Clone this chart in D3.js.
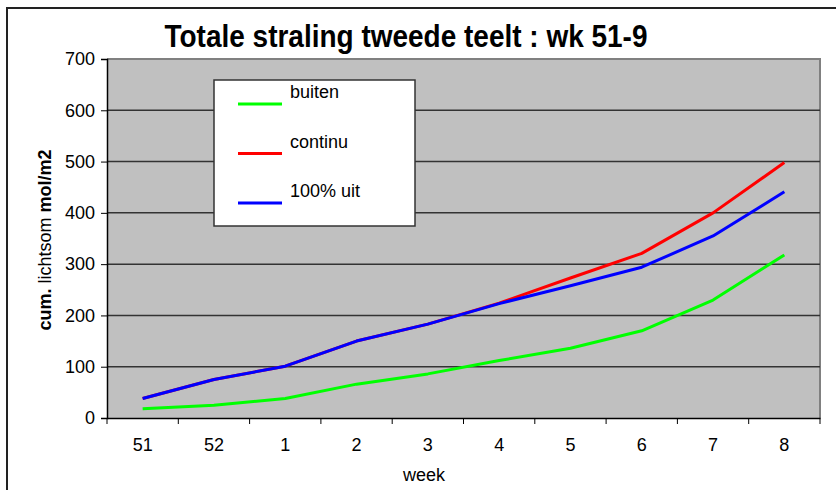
<!DOCTYPE html>
<html>
<head>
<meta charset="utf-8">
<script src="https://cdn.jsdelivr.net/npm/d3@7/dist/d3.min.js"></script>
<style>
  html, body { margin: 0; padding: 0; background: #fff; }
  svg { display: block; }
  text { font-family: "Liberation Sans Narrow", "Liberation Sans", Arial, sans-serif; fill: #000; }
</style>
</head>
<body>
<script>
var weeks = ['51', '52', '1', '2', '3', '4', '5', '6', '7', '8']
var buiten = [18, 25, 38, 66, 86, 112, 136, 170, 230, 318]
var continu = [38, 75, 101, 150, 183, 224, 273, 321, 400, 498]
var uit = [38, 75, 101, 150, 183, 223, 258, 294, 355, 441]
var yTicks = [0, 100, 200, 300, 400, 500, 600, 700]

var series = [
  {name: 'buiten', values: buiten, color: '#00ff00'},
  {name: 'continu', values: continu, color: '#ff0000'},
  {name: '100% uit', values: uit, color: '#0000ff'}
]

var width = 836, height = 490
var plot = {left: 107, right: 820, top: 59, bottom: 418}

var svg = d3.select('body').append('svg').
  attr('width', width).
  attr('height', height)

// outer chart frame
svg.append('rect').
  attr('x', 7).attr('y', 8).
  attr('width', 900).attr('height', 600).
  attr('fill', '#fff').
  attr('stroke', '#222').
  attr('stroke-width', 2)

var x = d3.scaleBand().domain(weeks).range([plot.left, plot.right])
var y = d3.scaleLinear().domain([0, 700]).range([plot.bottom, plot.top])

// plot area
svg.append('rect').
  attr('x', plot.left).attr('y', plot.top).
  attr('width', plot.right - plot.left).
  attr('height', plot.bottom - plot.top).
  attr('fill', '#c0c0c0')

svg.append('path').
  attr('d', 'M' + plot.left + ',' + plot.top + 'H' + plot.right + 'V' + plot.bottom).
  attr('fill', 'none').
  attr('stroke', '#808080').
  attr('stroke-width', 2)

// grid lines
svg.append('g').selectAll('line').
  data(yTicks.slice(1, -1)).
  enter().append('line').
  attr('x1', plot.left).attr('x2', plot.right).
  attr('y1', function (d) { return y(d) }).
  attr('y2', function (d) { return y(d) }).
  attr('stroke', '#333').
  attr('stroke-width', 1.5)

// y axis
var yAxis = svg.append('g').
  attr('transform', 'translate(' + plot.left + ',0)').
  call(d3.axisLeft(y).tickValues(yTicks).tickSize(6).tickPadding(6))
yAxis.selectAll('text').attr('font-size', 18).attr('font-family', null)

// x axis, ticks at the band edges
var xAxis = svg.append('g').
  attr('transform', 'translate(0,' + plot.bottom + ')').
  call(d3.axisBottom(x).tickSize(0).tickPadding(20))
xAxis.selectAll('text').attr('font-size', 18).attr('font-family', null)
xAxis.selectAll('.tick line').remove()
xAxis.selectAll('.edge').
  data(weeks.concat(['end'])).
  enter().append('line').
  attr('class', 'edge').
  attr('x1', function (d, i) { return plot.left + i * x.step() }).
  attr('x2', function (d, i) { return plot.left + i * x.step() }).
  attr('y1', 0).attr('y2', 6).
  attr('stroke', '#000')

svg.selectAll('.domain').attr('stroke', '#000').attr('stroke-width', 1.5)
svg.selectAll('.tick line').attr('stroke', '#000')

// series lines
var line = d3.line().
  x(function (d, i) { return x(weeks[i]) + x.bandwidth() / 2 }).
  y(function (d) { return y(d) })

svg.append('g').selectAll('path').
  data(series).
  enter().append('path').
  attr('d', function (s) { return line(s.values) }).
  attr('fill', 'none').
  attr('stroke', function (s) { return s.color }).
  attr('stroke-width', 3).
  attr('stroke-linejoin', 'round')

// legend
var legend = svg.append('g').attr('transform', 'translate(214,80)')
legend.append('rect').
  attr('width', 201).attr('height', 146).
  attr('fill', '#fff').
  attr('stroke', '#333').
  attr('stroke-width', 1.5)

var items = legend.selectAll('.item').
  data(series).
  enter().append('g').
  attr('class', 'item').
  attr('transform', function (d, i) { return 'translate(0,' + (24 + i * 49.5) + ')' })

items.append('line').
  attr('x1', 24).attr('x2', 68).
  attr('y1', 0).attr('y2', 0).
  attr('stroke', function (d) { return d.color }).
  attr('stroke-width', 3)

items.append('text').
  attr('x', 76).attr('y', -6).
  attr('font-size', 18).
  text(function (d) { return d.name })

// title
svg.append('text').
  attr('x', 406).attr('y', 47).
  attr('text-anchor', 'middle').
  attr('font-size', 32).
  attr('font-weight', 'bold').
  attr('textLength', 483).
  attr('lengthAdjust', 'spacingAndGlyphs').
  text('Totale straling tweede teelt : wk 51-9')

// axis titles
svg.append('text').
  attr('x', 424).attr('y', 481).
  attr('text-anchor', 'middle').
  attr('font-size', 18).
  text('week')

var yTitle = svg.append('text').
  attr('transform', 'translate(51,240) rotate(-90)').
  attr('text-anchor', 'middle').
  attr('font-size', 18)
yTitle.append('tspan').attr('font-weight', 'bold').text('cum.')
yTitle.append('tspan').text(' lichtsom ')
yTitle.append('tspan').attr('font-weight', 'bold').text('mol/m2')
</script>
</body>
</html>
